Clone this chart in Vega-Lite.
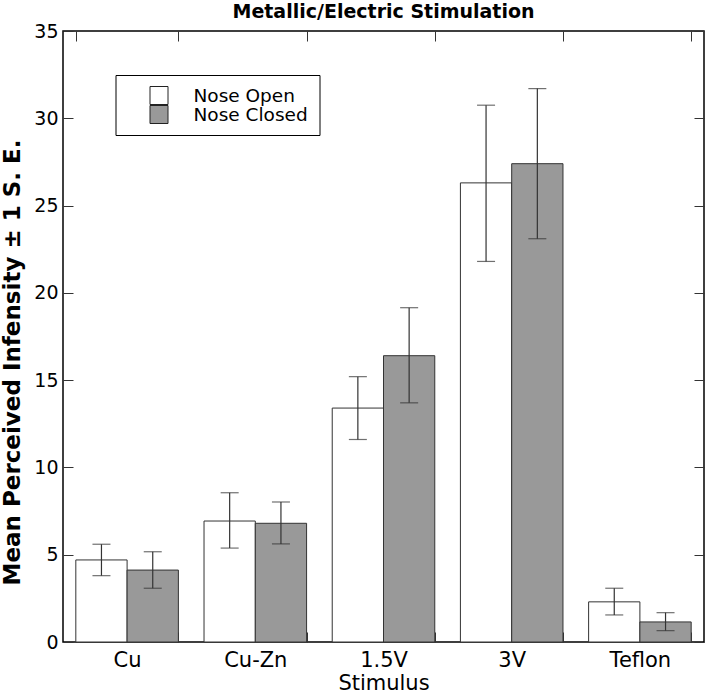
{
  "$schema": "https://vega.github.io/schema/vega-lite/v6.json",
  "width": 641,
  "height": 611,
  "autosize": {"type": "none"},
  "padding": {"left": 63, "top": 31, "right": 2, "bottom": 52},
  "title": {"text": "Metallic/Electric Stimulation", "fontSize": 19, "fontWeight": "bold", "font": "DejaVu Sans", "color": "black", "offset": 0, "anchor": "middle"},
  "config": {
    "view": {"stroke": "black", "strokeWidth": 1.5},
    "font": "DejaVu Sans",
    "axis": {"domain": false, "grid": false, "tickColor": "#333", "tickWidth": 1, "labelColor": "black", "titleColor": "black", "labelFont": "DejaVu Sans", "titleFont": "DejaVu Sans"},
    "legend": {"strokeColor": "black", "fillColor": "white", "padding": 11}
  },
  "data": {"values": [
    {"stimulus": "Cu", "condition": "Nose Open", "mean": 4.7, "lo": 3.8, "hi": 5.6},
    {"stimulus": "Cu", "condition": "Nose Closed", "mean": 4.12, "lo": 3.08, "hi": 5.17},
    {"stimulus": "Cu-Zn", "condition": "Nose Open", "mean": 6.93, "lo": 5.38, "hi": 8.55},
    {"stimulus": "Cu-Zn", "condition": "Nose Closed", "mean": 6.8, "lo": 5.62, "hi": 8.02},
    {"stimulus": "1.5V", "condition": "Nose Open", "mean": 13.4, "lo": 11.6, "hi": 15.2},
    {"stimulus": "1.5V", "condition": "Nose Closed", "mean": 16.4, "lo": 13.7, "hi": 19.15},
    {"stimulus": "3V", "condition": "Nose Open", "mean": 26.3, "lo": 21.8, "hi": 30.75},
    {"stimulus": "3V", "condition": "Nose Closed", "mean": 27.4, "lo": 23.1, "hi": 31.7},
    {"stimulus": "Teflon", "condition": "Nose Open", "mean": 2.3, "lo": 1.55, "hi": 3.08},
    {"stimulus": "Teflon", "condition": "Nose Closed", "mean": 1.15, "lo": 0.65, "hi": 1.68}
  ]},
  "encoding": {
    "x": {"field": "stimulus", "type": "nominal", "sort": ["Cu", "Cu-Zn", "1.5V", "3V", "Teflon"],
      "scale": {"paddingInner": 0.2, "paddingOuter": 0.1}, "axis": null},
    "xOffset": {"field": "condition", "type": "nominal", "sort": ["Nose Open", "Nose Closed"], "scale": {"paddingInner": 0, "paddingOuter": 0}}
  },
  "layer": [
    {
      "mark": {"type": "bar", "stroke": "#333", "strokeWidth": 1},
      "encoding": {
        "x": {"field": "stimulus", "type": "nominal", "sort": ["Cu", "Cu-Zn", "1.5V", "3V", "Teflon"],
          "axis": {"orient": "bottom", "title": "Stimulus", "labelAngle": 0, "tickBand": "extent", "tickSize": -10, "labelPadding": 17, "labelFontSize": 21, "titleFontSize": 21, "titleFontWeight": "normal", "titlePadding": 2}},
        "y": {"field": "mean", "type": "quantitative", "scale": {"domain": [0, 35], "nice": false},
          "axis": {"orient": "left", "title": "Mean Perceived Infensity ± 1 S. E.", "values": [0, 5, 10, 15, 20, 25, 30, 35], "tickSize": -10, "labelPadding": 15, "labelFontSize": 19, "titleFontSize": 23, "titleFontWeight": "bold", "titlePadding": 9, "titleY": 331}},
        "color": {"field": "condition", "type": "nominal", "sort": ["Nose Open", "Nose Closed"],
          "scale": {"domain": ["Nose Open", "Nose Closed"], "range": ["white", "#999999"]},
          "legend": {"title": null, "orient": "none", "legendX": 52.5, "legendY": 44, "symbolType": "square", "symbolSize": 324, "symbolStrokeColor": "#222", "symbolStrokeWidth": 1, "symbolOffset": 23, "labelOffset": 25, "labelFontSize": 18.5, "labelFont": "DejaVu Sans", "labelColor": "black", "rowPadding": 0, "clipHeight": 19}}
      }
    },
    {
      "mark": {"type": "rule", "color": "#333", "strokeWidth": 1.2},
      "encoding": {"y": {"field": "lo", "type": "quantitative", "axis": null}, "y2": {"field": "hi"}}
    },
    {
      "mark": {"type": "tick", "color": "#333", "size": 18, "thickness": 1.2},
      "encoding": {"y": {"field": "lo", "type": "quantitative", "axis": null}}
    },
    {
      "mark": {"type": "tick", "color": "#333", "size": 18, "thickness": 1.2},
      "encoding": {
        "x": {"field": "stimulus", "type": "nominal", "sort": ["Cu", "Cu-Zn", "1.5V", "3V", "Teflon"],
          "axis": {"orient": "top", "title": null, "labels": false, "tickBand": "extent", "tickSize": -10}},
        "y": {"field": "hi", "type": "quantitative",
          "axis": {"orient": "right", "title": null, "labels": false, "values": [0, 5, 10, 15, 20, 25, 30, 35], "tickSize": -10}}
      }
    }
  ],
  "resolve": {"axis": {"x": "independent", "y": "independent"}}
}
